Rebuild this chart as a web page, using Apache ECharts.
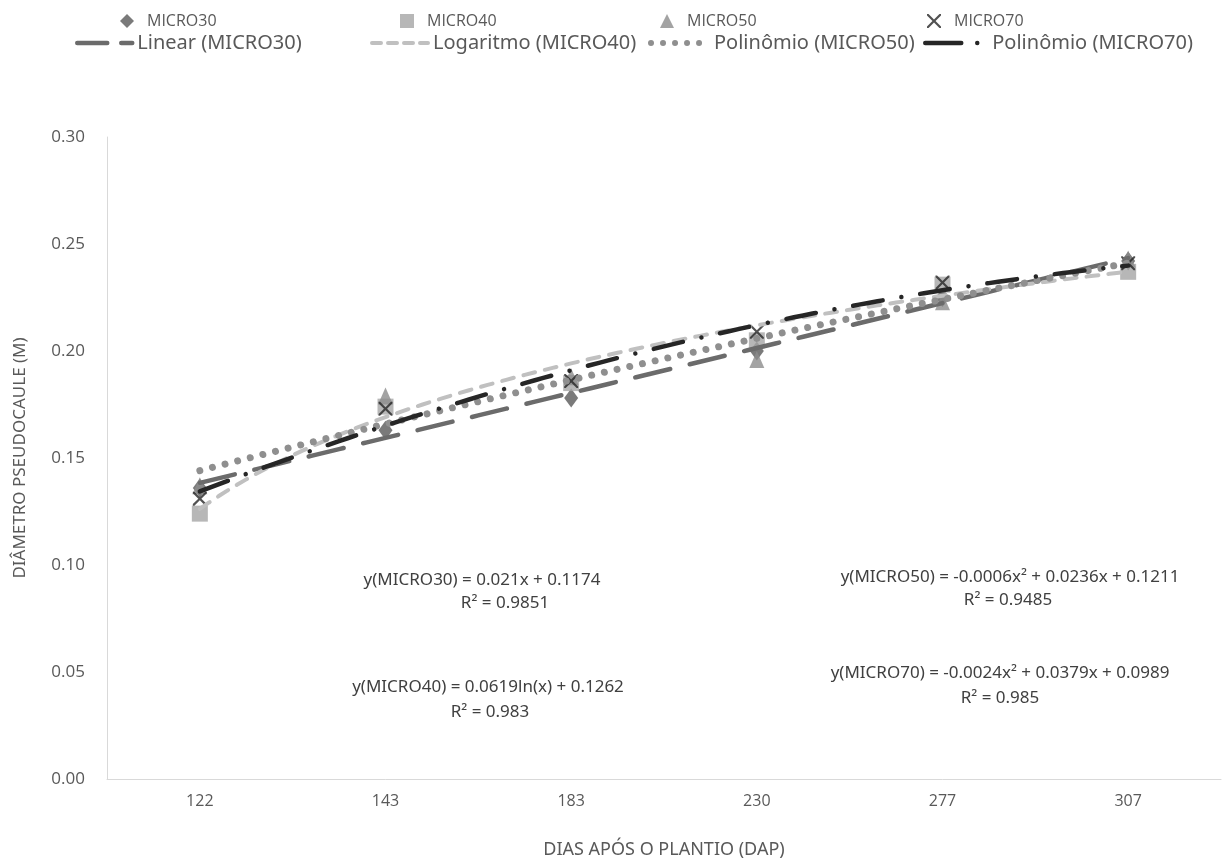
<!DOCTYPE html>
<html>
<head>
<meta charset="utf-8">
<script src="https://cdn.jsdelivr.net/npm/echarts@6/dist/echarts.min.js"></script>
<style>
html,body{margin:0;padding:0;background:#fff;}
#chart{width:1227px;height:865px;}
</style>
</head>
<body>
<div id="chart"></div>
<script>
// ---- data ----
const categories = ['122', '143', '183', '230', '277', '307'];
const micro30 = [0.136, 0.163, 0.178, 0.200, 0.225, 0.242];
const micro40 = [0.124, 0.174, 0.185, 0.205, 0.231, 0.237];
const micro50 = [0.137, 0.179, 0.188, 0.196, 0.223, 0.243];
const micro70 = [0.131, 0.173, 0.186, 0.209, 0.232, 0.241];
// trendline coefficients as shown in the chart's equations
const linear30 = [0.021, 0.1174];           // a*x + b
const log40 = [0.0619, 0.1262];             // a*ln(x) + b
const poly50 = [-0.0006, 0.0236, 0.1211];   // a*x^2 + b*x + c
const poly70 = [-0.0024, 0.0379, 0.0989];
const yTicks = ['0.00', '0.05', '0.10', '0.15', '0.20', '0.25', '0.30'];
const equations = [
  ['y(MICRO30) = 0.021x + 0.1174', 'R² = 0.9851'],
  ['y(MICRO40) = 0.0619ln(x) + 0.1262', 'R² = 0.983'],
  ['y(MICRO50) = -0.0006x² + 0.0236x + 0.1211', 'R² = 0.9485'],
  ['y(MICRO70) = -0.0024x² + 0.0379x + 0.0989', 'R² = 0.985']
];

// sample trendlines at category positions 1..N (fine steps for smooth curves)
function curve(fn) {
  const pts = [];
  for (let i = 0; i <= 100; i++) {
    const x = 1 + (categories.length - 1) * i / 100;
    pts.push([x, fn(x)]);
  }
  return pts;
}
const tLinear = curve(x => linear30[0] * x + linear30[1]);
const tLog = curve(x => log40[0] * Math.log(x) + log40[1]);
const tPoly50 = curve(x => poly50[0] * x * x + poly50[1] * x + poly50[2]);
const tPoly70 = curve(x => poly70[0] * x * x + poly70[1] * x + poly70[2]);

const xPath = 'path://M0,0 L2.2,0 L10,7.8 L17.8,0 L20,0 L20,2.2 L12.2,10 L20,17.8 L20,20 L17.8,20 L10,12.2 L2.2,20 L0,20 L0,17.8 L7.8,10 L0,2.2 Z';

const FONT = 'Noto Sans, sans-serif';
const TXT = '#595959';

const chart = echarts.init(document.getElementById('chart'), null, {renderer: 'canvas'});

function scatterLegend(name, left) {
  return {
    data: [name], left: left, top: 8, itemWidth: 14, itemHeight: 14,
    textStyle: {fontFamily: 'Open Sans', fontSize: 16, color: TXT, padding: [0, 0, 0, 8]},
    selectedMode: false
  };
}
function lineLegend(name, left, w, lw, dash) {
  return {
    data: [name], left: left, top: 28, itemWidth: w, itemHeight: 14,
    textStyle: {fontFamily: FONT, fontSize: 20, color: TXT},
    itemStyle: {color: 'rgba(0,0,0,0)', borderColor: 'rgba(0,0,0,0)', borderWidth: 0},
    lineStyle: {width: lw, type: dash, cap: 'round'},
    selectedMode: false
  };
}

const option = {
  backgroundColor: '#ffffff',
  animation: false,
  legend: [
    scatterLegend('MICRO30', 115),
    scatterLegend('MICRO40', 395),
    scatterLegend('MICRO50', 655),
    scatterLegend('MICRO70', 922),
    lineLegend('Linear (MICRO30)', 70, 55, 4.5, [30, 14]),
    lineLegend('Logaritmo (MICRO40)', 365, 56, 4, [9, 7]),
    lineLegend('Polinômio (MICRO50)', 643, 58, 6, [0.01, 12]),
    lineLegend('Polinômio (MICRO70)', 918, 62, 4.5, [36, 16, 0.01, 30])
  ],
  grid: {left: 107, right: 6, top: 137, bottom: 86, containLabel: false},
  xAxis: [
    {
      type: 'category', data: categories, boundaryGap: true,
      name: 'DIAS APÓS O PLANTIO (DAP)', nameLocation: 'middle', nameGap: 62,
      nameTextStyle: {fontFamily: FONT, fontSize: 18, color: TXT},
      axisLine: {lineStyle: {color: '#d9d9d9', width: 1}},
      axisTick: {show: false},
      axisLabel: {fontFamily: 'Open Sans', fontSize: 16, color: TXT, margin: 14},
      splitLine: {show: false}
    },
    {
      type: 'value', min: 0.5, max: categories.length + 0.5, show: false
    }
  ],
  yAxis: {
    type: 'value', min: 0, max: 0.3, interval: 0.05,
    name: 'DIÂMETRO PSEUDOCAULE (M)', nameLocation: 'middle', nameGap: 78,
    nameTextStyle: {fontFamily: FONT, fontSize: 17, color: TXT},
    axisLine: {show: true, lineStyle: {color: '#d9d9d9', width: 1}},
    axisTick: {show: false},
    axisLabel: {fontFamily: 'Open Sans', fontSize: 17, color: TXT, margin: 22,
      formatter: (v) => yTicks[Math.round(v / 0.05)]},
    splitLine: {show: false}
  },
  series: [
    {name: 'MICRO30', type: 'scatter', xAxisIndex: 0, data: micro30,
      symbol: 'diamond', symbolSize: [14, 19], itemStyle: {color: '#595959'}, z: 2},
    {name: 'MICRO40', type: 'scatter', xAxisIndex: 0, data: micro40,
      symbol: 'rect', symbolSize: 16, itemStyle: {color: '#a5a5a5'}, z: 2},
    {name: 'MICRO50', type: 'scatter', xAxisIndex: 0, data: micro50,
      symbol: 'triangle', symbolSize: [15, 17], itemStyle: {color: '#8c8c8c'}, z: 2},
    {name: 'MICRO70', type: 'scatter', xAxisIndex: 0, data: micro70,
      symbol: xPath, symbolSize: 14, itemStyle: {color: '#262626'}, z: 2},
    {name: 'Linear (MICRO30)', type: 'line', xAxisIndex: 1, data: tLinear, symbol: 'none',
      lineStyle: {color: '#6b6b6b', width: 4.5, type: [36, 20], cap: 'round'}, z: 3},
    {name: 'Logaritmo (MICRO40)', type: 'line', xAxisIndex: 1, data: tLog, symbol: 'none',
      lineStyle: {color: '#c0c0c0', width: 4, type: [12, 10], cap: 'round'}, z: 3},
    {name: 'Polinômio (MICRO50)', type: 'line', xAxisIndex: 1, data: tPoly50, symbol: 'none',
      lineStyle: {color: '#8f8f8f', width: 7, type: [0.01, 13], cap: 'round'}, z: 3},
    {name: 'Polinômio (MICRO70)', type: 'line', xAxisIndex: 1, data: tPoly70, symbol: 'none',
      lineStyle: {color: '#262626', width: 4.5, type: [30, 19, 0.01, 19], cap: 'round'}, z: 3}
  ]
};

// equation labels
const eqPos = [[482, 580, 505, 603], [488, 687, 490, 712], [1010, 577, 1008, 600], [1000, 673, 1000, 698]];
option.graphic = [];
equations.forEach((eq, i) => {
  const p = eqPos[i];
  option.graphic.push({type: 'text', x: p[0], y: p[1], style: {text: eq[0], fontFamily: FONT, fontSize: 17, fill: '#404040', textAlign: 'center', textVerticalAlign: 'middle'}});
  option.graphic.push({type: 'text', x: p[2], y: p[3], style: {text: eq[1], fontFamily: FONT, fontSize: 17, fill: '#404040', textAlign: 'center', textVerticalAlign: 'middle'}});
});

chart.setOption(option);
</script>
</body>
</html>
